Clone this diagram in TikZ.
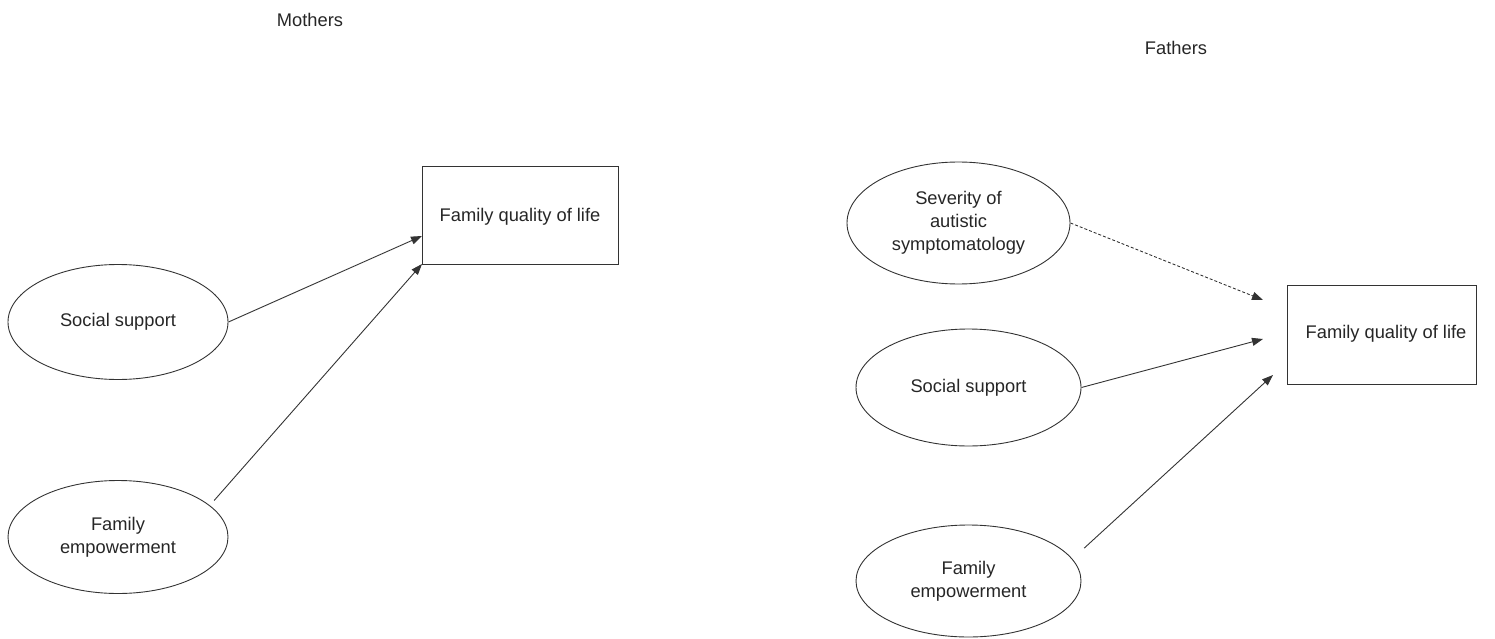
\documentclass[tikz,border=0pt]{standalone}
\usepackage{fontspec}
\setmainfont{Liberation Sans}
\usetikzlibrary{shapes.geometric,arrows.meta}
\begin{document}
\begin{tikzpicture}[x=1pt,y=-1pt,
  every node/.style={font=\fontsize{18.3}{23}\selectfont, text=black!85, align=center},
  latent/.style={ellipse, draw=black!80, line width=0.9pt, inner sep=0pt},
  outcome/.style={rectangle, draw=black!80, line width=0.9pt, inner sep=0pt},
  path/.style={draw=black!80, line width=0.9pt, -{Triangle[length=11pt,width=8pt]}},
  weakpath/.style={path, dash pattern=on 3pt off 2pt}]
\useasboundingbox (0,0) rectangle (1495,639);

% ---- Mothers ----
\node (mlabel) at (310,20) {Mothers};
\node[outcome, minimum width=196pt, minimum height=98pt] (fqolM) at (520,215) {};
\node (fqolMtext) at (520,217) {Family quality of life};
\node[latent, minimum width=220pt, minimum height=115pt] (ssM) at (118,322) {Social support};
\node[latent, minimum width=220pt, minimum height=113pt] (feM) at (118,537) {Family\\empowerment};
\coordinate (tM1) at (422,236);
\coordinate (tM2) at (422,264);
\draw[path] (ssM.east) -- (tM1);
\draw[path, shorten <=6.5pt] (feM.19.5) -- (tM2);

% ---- Fathers ----
\node (flabel) at (1176,48) {Fathers};
\node[outcome, minimum width=189pt, minimum height=99pt] (fqolF) at (1381.5,334.5) {};
\node (fqolFtext) at (1386,334) {Family quality of life};
\node[latent, minimum width=223pt, minimum height=122pt] (sevF) at (958.5,223) {Severity of\\autistic\\symptomatology};
\node[latent, minimum width=225pt, minimum height=117pt] (ssF) at (968.5,387.5) {Social support};
\node[latent, minimum width=225pt, minimum height=112pt] (feF) at (968.5,581) {Family\\empowerment};
\coordinate (tF1) at (1263,300);
\coordinate (tF2) at (1263,339);
\coordinate (tF3) at (1273,375);
\draw[weakpath] (sevF.east) -- (tF1);
\draw[path] (ssF.east) -- (tF2);
\draw[path, shorten <=16pt] (feF.12.7) -- (tF3);
\end{tikzpicture}
\end{document}
